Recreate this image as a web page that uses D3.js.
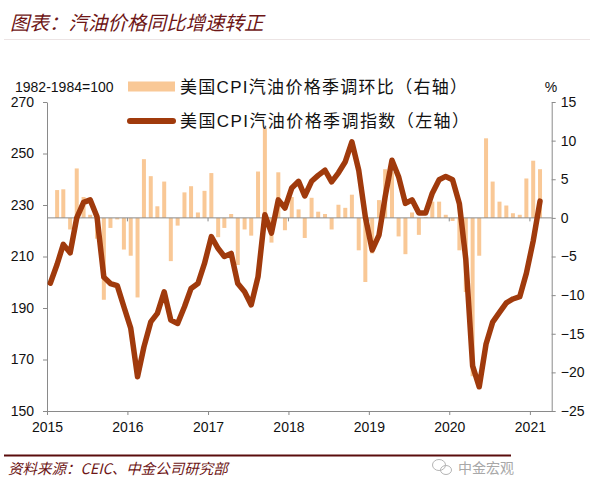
<!DOCTYPE html>
<html><head><meta charset="utf-8">
<script src="https://cdn.jsdelivr.net/npm/d3@7"></script>
<style>body{margin:0;background:#fff}svg{display:block}</style>
</head><body>
<svg id="c" width="594" height="491"></svg>
<script>
const titleText = "图表：汽油价格同比增速转正";
const sourceText = "资料来源：CEIC、中金公司研究部";
const watermarkText = "中金宏观";
const unitLeft = "1982-1984=100";
const unitRight = "%";
const seriesNames = ["美国CPI汽油价格季调环比（右轴）", "美国CPI汽油价格季调指数（左轴）"];
const leftTicks = [150, 170, 190, 210, 230, 250, 270];
const rightTicks = [-25, -20, -15, -10, -5, 0, 5, 10, 15];
const yearTicks = [2015, 2016, 2017, 2018, 2019, 2020, 2021];
// monthly, Jan 2015 - Feb 2021
const months = d3.timeMonth.range(new Date(2015, 0, 1), new Date(2021, 2, 1));
const indexValues = [
  199.6, 207, 214.7, 211.4, 225, 231, 232, 225.4, 202, 199.5, 198.7, 190.5,
  182.2, 163.3, 174.9, 184.6, 187.9, 196.3, 185.3, 184, 190.5, 197.6, 199.5, 207.3,
  217.7, 213.1, 210, 211.2, 199.5, 196.3, 191.2, 202.2, 226.2, 219.1, 232, 228.8,
  236.6, 239.2, 233.5, 239.2, 241.5, 243.5, 239, 242.5, 246.8, 254.5, 243.5, 225.4,
  212.5, 218.3, 233.2, 247.4, 241, 230.6, 232, 226.9, 226.9, 234.6, 239.8, 241.1,
  239.8, 230.5, 209, 167.5, 159.4, 176, 184.5, 188.3, 192, 193.5, 194.4, 203.5,
  216, 231.5
];
const momValues = [
  null, 3.6, 3.7, -1.5, 6.4, 2.7, 0.4, -2.7, -10.6, -1.3, -0.2, -4.1,
  -4.9, -10.3, 7.6, 5.4, 1.5, 4.7, -5.6, -1.0, 3.3, 4.1, 0.7, 3.5,
  5.8, -2.5, -1.3, 0.5, -6.1, -1.5, -2.3, 6.0, 11.6, -3.2, 5.9, -1.6,
  2.7, 1.1, -2.6, 2.6, 0.8, 0.5, -1.5, 1.7, 1.3, 3.0, -4.2, -8.3,
  -4.6, 2.3, 6.3, 5.9, -2.4, -4.7, 0.7, -2.2, 0.1, 2.1, 2.1, 0.4,
  -0.4, -4.2, -9.6, -20.5, -4.9, 10.3, 4.7, 2.1, 1.6, 0.6, 0.4, 5.1,
  7.4, 6.3
];

const svg = d3.select("#c");
const fontLatin = "'Liberation Sans', Arial, 'Noto Sans CJK SC', sans-serif";
const fontCJK = "'Noto Sans CJK SC', sans-serif";
const maroon = "#6e1616";
const barColor = "#f9c896";
const lineColor = "#a03a0c";
const axisColor = "#8a8a8a";

const x = d3.scaleTime().domain([new Date(2015, 0, 1), new Date(2021, 3, 10)]).range([47, 551.7]);
const yL = d3.scaleLinear().domain([150, 270]).range([411, 102]);
const yR = d3.scaleLinear().domain([-25, 15]).range([411, 102]);
const xm = d => x(d3.timeDay.offset(d, 15));

// title
svg.append("text").attr("x", 10).attr("y", 30).text(titleText)
  .attr("font-family", fontCJK).attr("font-style", "italic").attr("font-size", 19.5)
  .attr("fill", maroon);
svg.append("line").attr("x1", 4).attr("x2", 590).attr("y1", 39.5).attr("y2", 39.5)
  .attr("stroke", "#ece4e4").attr("stroke-width", 1);

// bars
const data = months.map((d, i) => ({ d, v: indexValues[i], m: momValues[i] }));
svg.append("g").selectAll("rect").data(data.filter(e => e.m !== null)).join("rect")
  .attr("x", e => xm(e.d) - 2)
  .attr("width", 4)
  .attr("y", e => Math.min(yR(e.m), yR(0)))
  .attr("height", e => Math.abs(yR(e.m) - yR(0)))
  .attr("fill", barColor);

// zero baseline with year ticks
svg.append("line").attr("x1", 47).attr("x2", 551.7).attr("y1", yR(0)).attr("y2", yR(0))
  .attr("stroke", axisColor).attr("stroke-width", 1);
svg.append("g").selectAll("line").data(yearTicks.slice(1)).join("line")
  .attr("x1", yv => x(new Date(yv, 0, 1))).attr("x2", yv => x(new Date(yv, 0, 1)))
  .attr("y1", yR(0)).attr("y2", yR(0) + 3.5).attr("stroke", axisColor);

// axes
function styleAxis(g) {
  g.selectAll("path.domain").attr("stroke", axisColor);
  g.selectAll(".tick line").attr("stroke", axisColor);
  g.selectAll(".tick text").attr("fill", "#111").attr("font-family", fontLatin).attr("font-size", 14);
}
svg.append("g").attr("transform", "translate(47,0)")
  .call(d3.axisLeft(yL).tickValues(leftTicks).tickSize(4).tickSizeOuter(0).tickPadding(9))
  .call(styleAxis);
svg.append("g").attr("transform", "translate(551.7,0)")
  .call(d3.axisRight(yR).tickValues(rightTicks).tickSize(4).tickSizeOuter(0).tickPadding(5))
  .call(styleAxis);
svg.append("g").attr("transform", "translate(0,411)")
  .call(d3.axisBottom(x).tickValues(yearTicks.map(yv => new Date(yv, 0, 1)))
    .tickFormat(d3.timeFormat("%Y")).tickSize(4).tickSizeOuter(0).tickPadding(7))
  .call(styleAxis);

// line
svg.append("path").datum(data)
  .attr("d", d3.line().x(e => xm(e.d)).y(e => yL(e.v)))
  .attr("fill", "none").attr("stroke", lineColor).attr("stroke-width", 5.5)
  .attr("stroke-linejoin", "round").attr("stroke-linecap", "round");

// units
svg.append("text").attr("x", 15).attr("y", 92).text(unitLeft)
  .attr("font-family", fontLatin).attr("font-size", 14).attr("fill", "#111");
svg.append("text").attr("x", 551).attr("y", 92).attr("text-anchor", "middle").text(unitRight)
  .attr("font-family", fontLatin).attr("font-size", 14).attr("fill", "#111");

// legend
svg.append("rect").attr("x", 128).attr("y", 81.5).attr("width", 47).attr("height", 10).attr("fill", barColor);
svg.append("line").attr("x1", 130).attr("x2", 173).attr("y1", 121).attr("y2", 121)
  .attr("stroke", lineColor).attr("stroke-width", 6).attr("stroke-linecap", "round");
const legY = [87, 121];
const legLen = [287, 289];
seriesNames.forEach((s, i) => {
  svg.append("text").attr("x", 180).attr("y", legY[i]).attr("dy", "0.36em").text(s)
    .attr("font-family", fontLatin).attr("font-size", 17).attr("fill", "#111")
    .attr("textLength", legLen[i]).attr("lengthAdjust", "spacing");
});

// footer
svg.append("line").attr("x1", 4).attr("x2", 511).attr("y1", 455.5).attr("y2", 455.5)
  .attr("stroke", "#5a0c0c").attr("stroke-width", 2);
svg.append("text").attr("x", 8).attr("y", 474).text(sourceText)
  .attr("font-family", fontCJK).attr("font-style", "italic").attr("font-size", 14.5)
  .attr("fill", maroon);
// watermark
const wm = svg.append("g").attr("fill", "none").attr("stroke", "#b5b5b5").attr("stroke-width", 1);
wm.append("ellipse").attr("cx", 439).attr("cy", 465).attr("rx", 6.5).attr("ry", 5.5);
wm.append("ellipse").attr("cx", 446).attr("cy", 470).attr("rx", 5.5).attr("ry", 4.5);
svg.append("text").attr("x", 458).attr("y", 473).text(watermarkText)
  .attr("font-family", fontCJK).attr("font-size", 14).attr("fill", "#a8a8a8");
</script>
</body></html>
